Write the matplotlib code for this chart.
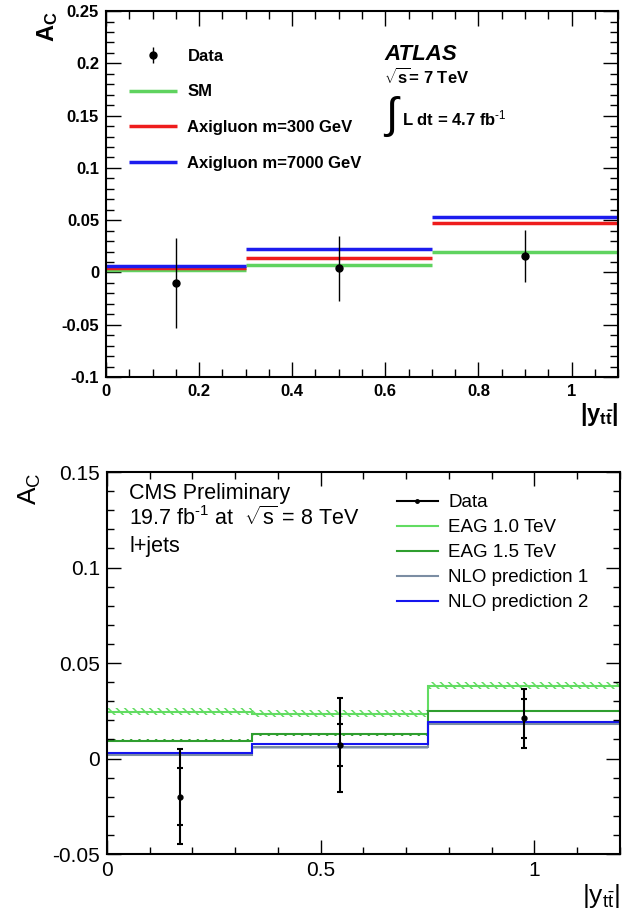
import numpy as np
import matplotlib
matplotlib.use("Agg")
import matplotlib.pyplot as plt
from matplotlib.lines import Line2D
from matplotlib.ticker import MultipleLocator, FuncFormatter

plt.rcParams['font.family'] = ['Liberation Sans', 'DejaVu Sans']
plt.rcParams['mathtext.fontset'] = 'custom'
plt.rcParams['mathtext.rm'] = 'Liberation Sans'
plt.rcParams['mathtext.it'] = 'Liberation Sans:italic'
plt.rcParams['mathtext.bf'] = 'Liberation Sans:bold'
plt.rcParams['hatch.linewidth'] = 1.1

# ATLAS 7 TeV
atlas_edges = [0.0, 0.3, 0.7, 1.1]
atlas_x = [0.15, 0.50, 0.90]
atlas_data = [-0.010, 0.004, 0.016]
atlas_err = [0.043, 0.031, 0.025]
atlas_sm = [0.0025, 0.0067, 0.020]
atlas_axi300 = [0.0042, 0.0143, 0.0474]
atlas_axi7000 = [0.0060, 0.0220, 0.0535]

# CMS 8 TeV
cms_edges = [0.0, 0.34, 0.75, 1.2]
cms_x = [0.17, 0.545, 0.975]
cms_data = [-0.020, 0.007, 0.021]
cms_stat = [0.015, 0.011, 0.010]
cms_tot = [0.025, 0.0245, 0.0155]
cms_eag10 = [0.0246, 0.0234, 0.0381]
cms_eag15 = [0.0094, 0.0126, 0.0248]
cms_nlo1 = [0.0021, 0.0059, 0.0182]
cms_nlo2 = [0.0028, 0.0077, 0.0190]
eag10_band = 0.0018


def fmt(v, pos):
    return f'{round(v, 6) + 0:g}'


def root_axes(ax, major_len, minor_len):
    ax.tick_params(which='both', direction='in', top=True, right=True, width=1)
    ax.tick_params(which='major', length=major_len)
    ax.tick_params(which='minor', length=minor_len)
    for s in ax.spines.values():
        s.set_linewidth(1.5)
    ax.xaxis.set_major_formatter(FuncFormatter(fmt))
    ax.yaxis.set_major_formatter(FuncFormatter(fmt))


fig = plt.figure(figsize=(6.41, 9.14), dpi=100)

# ---------------- top panel (ATLAS) ----------------
ax1 = fig.add_axes([0.1654, 0.5875, 0.7988, 0.4004])
ax1.set_xlim(0, 1.1)
ax1.set_ylim(-0.1, 0.25)
ax1.xaxis.set_major_locator(MultipleLocator(0.2))
ax1.xaxis.set_minor_locator(MultipleLocator(0.05))
ax1.yaxis.set_major_locator(MultipleLocator(0.05))
ax1.yaxis.set_minor_locator(MultipleLocator(0.01))
root_axes(ax1, 11, 5.5)
ax1.tick_params(labelsize=12, pad=5)
for lab in ax1.get_xticklabels() + ax1.get_yticklabels():
    lab.set_fontweight('bold')

e = np.array(atlas_edges)
ax1.hlines(atlas_sm, e[:-1], e[1:], color='#5fd35f', lw=2.5, label='SM')
ax1.hlines(atlas_axi300, e[:-1], e[1:], color='#ee1c1c', lw=2.5, label='Axigluon m=300 GeV')
ax1.hlines(atlas_axi7000, e[:-1], e[1:], color='#1c1cee', lw=2.5, label='Axigluon m=7000 GeV')
ax1.errorbar(atlas_x, atlas_data, yerr=atlas_err, fmt='o', color='k', ms=5,
             elinewidth=1, capsize=0, label='Data')

h, l = ax1.get_legend_handles_labels()
order = [3, 0, 1, 2]
ax1.legend([h[i] for i in order], [l[i] for i in order], loc='upper left',
           bbox_to_anchor=(0.045, 0.897), frameon=False, borderpad=0, borderaxespad=0,
           handlelength=2.9, handletextpad=0.6, labelspacing=1.24,
           prop={'weight': 'bold', 'size': 12})

ax1.text(0.543, 0.881, 'ATLAS', transform=ax1.transAxes, fontsize=16,
         fontweight='bold', fontstyle='italic', va='center', ha='left')
ax1.text(0.543, 0.819, r'$\mathbf{\sqrt{s}}$= 7 TeV', transform=ax1.transAxes, fontsize=12,
         fontweight='bold', va='center', ha='left')
ax1.text(0.540, 0.71, r'$\int$', transform=ax1.transAxes, fontsize=32,
         va='center', ha='left', family='DejaVu Sans')
ax1.text(0.578, 0.707, r'L dt = 4.7 fb$^{\mathbf{\text{-1}}}$', transform=ax1.transAxes,
         fontsize=12, fontweight='bold', va='center', ha='left')

ax1.text(-0.115, 1.0, r'$\mathbf{A_C}$', transform=ax1.transAxes, fontsize=17,
         rotation=90, ha='center', va='top')
ax1.text(1.0, -0.065, r'$\mathbf{|y_{t\bar{t}}|}$', transform=ax1.transAxes, fontsize=17,
         ha='right', va='top')

# ---------------- bottom panel (CMS) ----------------
ax2 = fig.add_axes([0.1669, 0.0656, 0.8003, 0.4179])
ax2.set_xlim(0, 1.2)
ax2.set_ylim(-0.05, 0.15)
ax2.xaxis.set_major_locator(MultipleLocator(0.5))
ax2.xaxis.set_minor_locator(MultipleLocator(0.1))
ax2.yaxis.set_major_locator(MultipleLocator(0.05))
ax2.yaxis.set_minor_locator(MultipleLocator(0.01))
root_axes(ax2, 10, 5)
ax2.tick_params(labelsize=15, pad=5)

ce = np.array(cms_edges)
c10 = '#62dc62'
c15 = '#2f9e2f'
cn1 = '#7b8da3'
cn2 = '#1515ee'
ax2.stairs(np.array(cms_eag10) + eag10_band, ce, baseline=np.array(cms_eag10) - eag10_band,
           fill=True, facecolor='none', edgecolor=c10, hatch='\\\\\\\\', lw=0)
ax2.stairs(np.array(cms_eag15) + 0.0006, ce, baseline=np.array(cms_eag15) - 0.0006,
           fill=True, facecolor='none', edgecolor=c15, hatch='\\\\\\\\', lw=0)
ax2.stairs(np.array(cms_nlo1) + 0.0008, ce, baseline=np.array(cms_nlo1) - 0.0008,
           fill=True, facecolor='#b9c6d6', edgecolor='none', lw=0)
ax2.stairs(cms_eag10, ce, baseline=None, color=c10, lw=1.5)
ax2.stairs(cms_eag15, ce, baseline=None, color=c15, lw=1.5)
ax2.stairs(cms_nlo1, ce, baseline=None, color=cn1, lw=1.5)
ax2.stairs(cms_nlo2, ce, baseline=None, color=cn2, lw=1.5)

ax2.errorbar(cms_x, cms_data, yerr=cms_tot, fmt='o', color='k', ms=3.5,
             elinewidth=1.5, capsize=2, capthick=1.5)
sx = np.array(cms_x)
sd = np.array(cms_data)
ss = np.array(cms_stat)
ax2.plot(np.r_[sx, sx], np.r_[sd + ss, sd - ss], ls='none', marker='_', ms=4,
         mew=1.5, color='k')

handles = [Line2D([], [], color='k', lw=1.5, marker='o', ms=2.5),
           Line2D([], [], color=c10, lw=1.5),
           Line2D([], [], color=c15, lw=1.5),
           Line2D([], [], color=cn1, lw=1.5),
           Line2D([], [], color=cn2, lw=1.5)]
labels = ['Data', 'EAG 1.0 TeV', 'EAG 1.5 TeV', 'NLO prediction 1', 'NLO prediction 2']
ax2.legend(handles, labels, loc='upper left', bbox_to_anchor=(0.565, 0.942),
           frameon=False, borderpad=0, borderaxespad=0, handlelength=2.2,
           handletextpad=0.55, labelspacing=0.42, fontsize=13.5)

ax2.text(0.043, 0.945, 'CMS Preliminary', transform=ax2.transAxes, fontsize=15.5,
         va='center', ha='left')
ax2.text(0.043, 0.88, r'19.7 fb$^{\text{-1}}$ at  $\sqrt{\mathrm{s}}$ = 8 TeV',
         transform=ax2.transAxes, fontsize=15.5, va='center', ha='left')
ax2.text(0.043, 0.805, 'l+jets', transform=ax2.transAxes, fontsize=15.5,
         va='center', ha='left')

ax2.text(-0.15, 1.0, r'$\mathrm{A_C}$', transform=ax2.transAxes, fontsize=19,
         rotation=90, ha='center', va='top')
ax2.text(1.0, -0.072, r'$\mathrm{|y_{t\bar{t}}|}$', transform=ax2.transAxes, fontsize=19,
         ha='right', va='top')

fig.savefig('out.png', dpi=100)
